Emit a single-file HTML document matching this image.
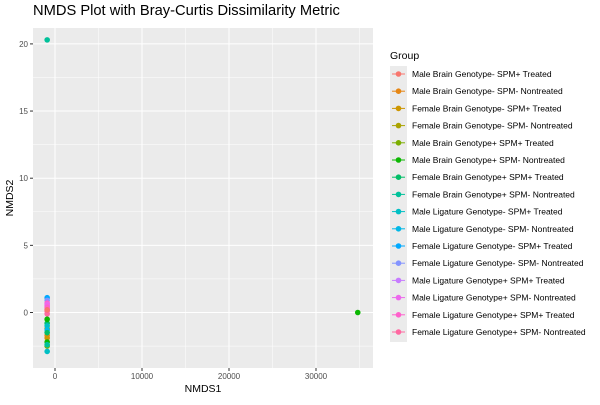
<!DOCTYPE html>
<html><head><meta charset="utf-8"><style>
body{margin:0;background:#fff;font-family:"Liberation Sans",sans-serif}
svg text{font-family:"Liberation Sans",sans-serif}
</style></head><body>
<svg id="chart" width="600" height="400"></svg>
<script>
const groups=["Male Brain Genotype- SPM+ Treated","Male Brain Genotype- SPM- Nontreated","Female Brain Genotype- SPM+ Treated","Female Brain Genotype- SPM- Nontreated","Male Brain Genotype+ SPM+ Treated","Male Brain Genotype+ SPM- Nontreated","Female Brain Genotype+ SPM+ Treated","Female Brain Genotype+ SPM- Nontreated","Male Ligature Genotype- SPM+ Treated","Male Ligature Genotype- SPM- Nontreated","Female Ligature Genotype- SPM+ Treated","Female Ligature Genotype- SPM- Nontreated","Male Ligature Genotype+ SPM+ Treated","Male Ligature Genotype+ SPM- Nontreated","Female Ligature Genotype+ SPM+ Treated","Female Ligature Genotype+ SPM- Nontreated"];
const colors=["#F8766D","#E68613","#CD9600","#ABA300","#7CAE00","#0CB702","#00BE67","#00C19A","#00BFC4","#00B8E7","#00A9FF","#8494FF","#C77CFF","#ED68ED","#FF61CC","#FF68A1"];
const ptX=[-900,-900,-900,-900,-900,-900,-900,-900,-900,-900,-900,-900,-900,-900,-900,-900,-900,-900,-900,-900,-900,-900,34800,-900,-900];
const ptY=[0.2,-1.7,-1.9,-1.2,-2.5,-2.2,-0.8,-2.4,-1.0,-1.3,20.3,-2.9,-1.5,1.1,0.9,0.5,0.3,0.7,0.1,0.6,0.4,-0.1,0.0,-0.5,0.2];
const ptG=[0,1,2,3,4,5,6,7,8,9,7,8,6,10,11,12,13,14,15,13,14,15,5,5,0];
const xTicks=[0,10000,20000,30000];
const yTicks=[0,5,10,15,20];
const svg=document.getElementById('chart');const NS='http://www.w3.org/2000/svg';
function el(t,a,p){const e=document.createElementNS(NS,t);for(const k in a)e.setAttribute(k,a[k]);(p||svg).appendChild(e);return e;}
const L=33,R=373,T=28,B=368;
const xs=v=>55+v*0.0087;
const ys=v=>312.5-v*13.43;
const panel=el('rect',{x:L,y:T,width:R-L,height:B-T,fill:'#EBEBEB'});


for(let i=0;i<xTicks.length;i++){const v=xTicks[i]+5000;if(xs(v)<R)el('line',{x1:xs(v),x2:xs(v),y1:T,y2:B,stroke:'#fff','stroke-width':0.5});}
for(let i=0;i<yTicks.length;i++){const v=yTicks[i]-2.5;if(ys(v)<B&&ys(v)>T)el('line',{x1:L,x2:R,y1:ys(v),y2:ys(v),stroke:'#fff','stroke-width':0.5});}
el('line',{x1:L,x2:R,y1:ys(22.5),y2:ys(22.5),stroke:'#fff','stroke-width':0.5});
xTicks.forEach(v=>{el('line',{x1:xs(v),x2:xs(v),y1:T,y2:B,stroke:'#fff','stroke-width':1});
el('line',{x1:xs(v),x2:xs(v),y1:B,y2:B+3,stroke:'#333'});
const t=el('text',{x:xs(v),y:B+11,'font-size':8,fill:'#4D4D4D','text-anchor':'middle'});t.textContent=v;
});
yTicks.forEach(v=>{el('line',{x1:L,x2:R,y1:ys(v),y2:ys(v),stroke:'#fff','stroke-width':1});
el('line',{x1:L-3,x2:L,y1:ys(v),y2:ys(v),stroke:'#333'});
const t=el('text',{x:L-5,y:ys(v)+3,'font-size':8,fill:'#4D4D4D','text-anchor':'end'});t.textContent=v;
});
for(let i=0;i<ptX.length;i++){const c=el('circle',{cx:xs(ptX[i]),cy:ys(ptY[i]),r:2.8,fill:colors[ptG[i]]});
}
const tt=el('text',{x:33,y:15,'font-size':14.7,fill:'#000'});tt.textContent='NMDS Plot with Bray-Curtis Dissimilarity Metric';

const xt=el('text',{x:203,y:392,'font-size':10.5,'text-anchor':'middle'});xt.textContent='NMDS1';

const yt=el('text',{x:13,y:198,'font-size':10.5,'text-anchor':'middle',transform:'rotate(-90 13 198)'});yt.textContent='NMDS2';

const lt=el('text',{x:390,y:59,'font-size':10.5});lt.textContent='Group';

el('rect',{x:390,y:66,width:17,height:276,fill:'#EBEBEB'});
groups.forEach((g,i)=>{const y=74+i*17.2;
const gg=el('g',{});
el('line',{x1:392,x2:405,y1:y,y2:y,stroke:colors[i],'stroke-width':1},gg);
el('circle',{cx:398.5,cy:y,r:2.8,fill:colors[i]},gg);
const t=el('text',{x:412,y:y+3,'font-size':8.5,fill:'#000'},gg);t.textContent=g;});
</script></body></html>
